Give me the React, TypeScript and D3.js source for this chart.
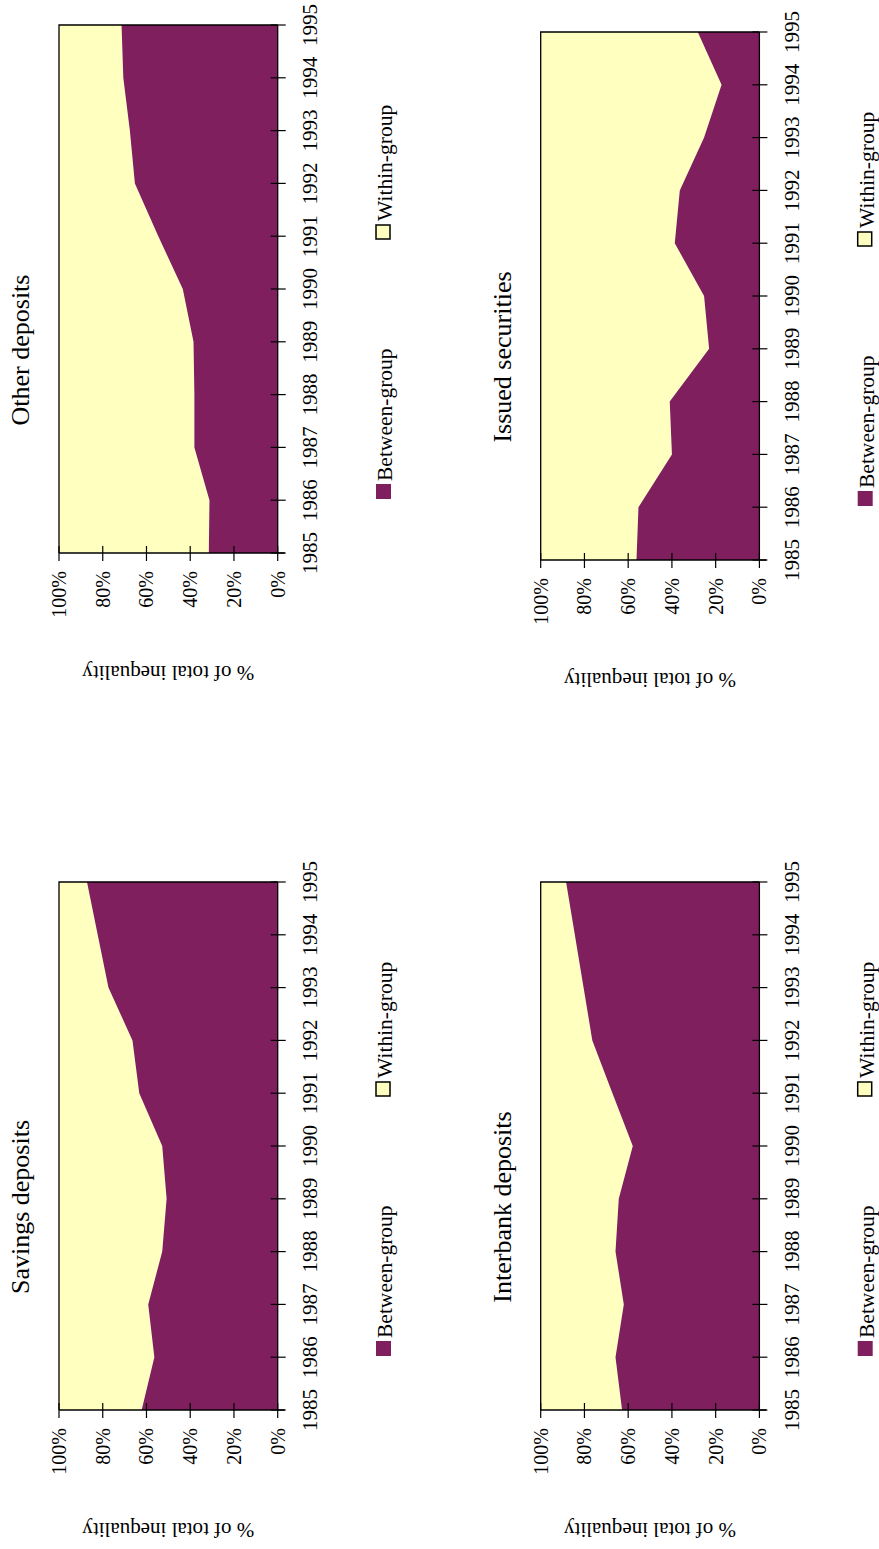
import React from "react";
import * as d3 from "d3";

// Years on the horizontal (time) axis
const years: number[] = [1985, 1986, 1987, 1988, 1989, 1990, 1991, 1992, 1993, 1994, 1995];
const percentTicks: number[] = [0, 20, 40, 60, 80, 100];

// Share of total inequality (%) explained between groups / within groups
const otherBetween: number[] = [31.5, 31.2, 38.1, 38.1, 38.5, 43.4, 54.6, 65.3, 67.6, 70.6, 71.4];
const otherWithin: number[] = [68.5, 68.8, 61.9, 61.9, 61.5, 56.6, 45.4, 34.7, 32.4, 29.4, 28.6];

const savingsBetween: number[] = [62.2, 56.4, 59.2, 52.8, 50.8, 52.8, 63.3, 66.4, 77.4, 82.3, 87.2];
const savingsWithin: number[] = [37.8, 43.6, 40.8, 47.2, 49.2, 47.2, 36.7, 33.6, 22.6, 17.7, 12.8];

const issuedBetween: number[] = [56.2, 55.3, 40.0, 41.0, 23.0, 25.3, 38.7, 36.4, 25.3, 17.3, 28.2];
const issuedWithin: number[] = [43.8, 44.7, 60.0, 59.0, 77.0, 74.7, 61.3, 63.6, 74.7, 82.7, 71.8];

const interbankBetween: number[] = [62.8, 65.8, 62.0, 65.8, 64.3, 57.9, 67.2, 76.4, 80.4, 84.4, 88.4];
const interbankWithin: number[] = [37.2, 34.2, 38.0, 34.2, 35.7, 42.1, 32.8, 23.6, 19.6, 15.6, 11.6];

const seriesNames = ["Between-group", "Within-group"];
const panelTitles = ["Other deposits", "Savings deposits", "Issued securities", "Interbank deposits"];
const axisTitle = "% of total inequality";

const BETWEEN_COLOR = "#801f5e";
const WITHIN_COLOR = "#ffffc0";
const FONT = "'Liberation Serif', 'Times New Roman', serif";

const PLOT_W = 528; // length of the time axis
const PLOT_H = 218.7; // length of the percent axis

type Row = { year: number; between: number; within: number };

function Panel({ title, between, within, tx, ty }: { title: string; between: number[]; within: number[]; tx: number; ty: number }) {
  const rows: Row[] = years.map((y, i) => ({ year: y, between: between[i], within: within[i] }));
  const x = d3.scaleLinear().domain([1985, 1995]).range([0, PLOT_W]);
  const y = d3.scaleLinear().domain([0, 100]).range([PLOT_H, 0]);
  const stacked = d3.stack<Row>().keys(["between", "within"])(rows);
  const area = d3
    .area<d3.SeriesPoint<Row>>()
    .x((d) => x(d.data.year))
    .y0((d) => y(d[0]))
    .y1((d) => y(d[1]));

  return (
    <g transform={`translate(${tx},${ty}) rotate(-90)`}>
      <path d={area(stacked[1]) || ""} fill={WITHIN_COLOR} />
      <path d={area(stacked[0]) || ""} fill={BETWEEN_COLOR} />
      {/* frame on the open sides */}
      <path d={`M0,0 H${PLOT_W} V${PLOT_H}`} fill="none" stroke="#000" strokeWidth={1.3} />
      {/* percent axis */}
      <line x1={0} x2={0} y1={0} y2={PLOT_H + 7} stroke="#000" strokeWidth={1.3} />
      {percentTicks.map((p) => (
        <g key={p}>
          <line x1={-8} x2={7} y1={y(p)} y2={y(p)} stroke="#000" strokeWidth={1.2} />
          <text x={-18} y={y(p)} dy="0.35em" textAnchor="end" fontSize={20} fontFamily={FONT}>
            {`${p}%`}
          </text>
        </g>
      ))}
      {/* time axis */}
      <line x1={0} x2={PLOT_W} y1={PLOT_H} y2={PLOT_H} stroke="#000" strokeWidth={1.3} />
      {years.map((yr) => (
        <g key={yr}>
          <line x1={x(yr)} x2={x(yr)} y1={PLOT_H - 7} y2={PLOT_H + 8} stroke="#000" strokeWidth={1.2} />
          <text x={x(yr)} y={258} textAnchor="middle" fontSize={21} fontFamily={FONT}>
            {yr}
          </text>
        </g>
      ))}
      {/* title */}
      <text x={203} y={-30} textAnchor="middle" fontSize={26} fontFamily={FONT}>
        {title}
      </text>
      {/* axis title */}
      <text transform={`translate(-113,${PLOT_H / 2}) rotate(-90)`} textAnchor="middle" fontSize={21} fontFamily={FONT}>
        {axisTitle}
      </text>
      {/* legend */}
      <rect x={54} y={317} width={15} height={15} fill={BETWEEN_COLOR} />
      <text x={72} y={327} dy="0.3em" fontSize={21.5} fontFamily={FONT}>
        {seriesNames[0]}
      </text>
      <rect x={314} y={317} width={14} height={14} fill={WITHIN_COLOR} stroke="#000" strokeWidth={1.5} />
      <text x={332} y={327} dy="0.3em" fontSize={21.5} fontFamily={FONT}>
        {seriesNames[1]}
      </text>
    </g>
  );
}

export default function App() {
  return (
    <svg
      width={879}
      height={1549}
      style={{ position: "absolute", left: 0, top: 0, background: "#fff" }}
    >
      <rect width={879} height={1549} fill="#fff" />
      <Panel title={panelTitles[0]} between={otherBetween} within={otherWithin} tx={59} ty={553} />
      <Panel title={panelTitles[1]} between={savingsBetween} within={savingsWithin} tx={59} ty={1410} />
      <Panel title={panelTitles[2]} between={issuedBetween} within={issuedWithin} tx={540.7} ty={560} />
      <Panel title={panelTitles[3]} between={interbankBetween} within={interbankWithin} tx={540.7} ty={1410} />
    </svg>
  );
}
